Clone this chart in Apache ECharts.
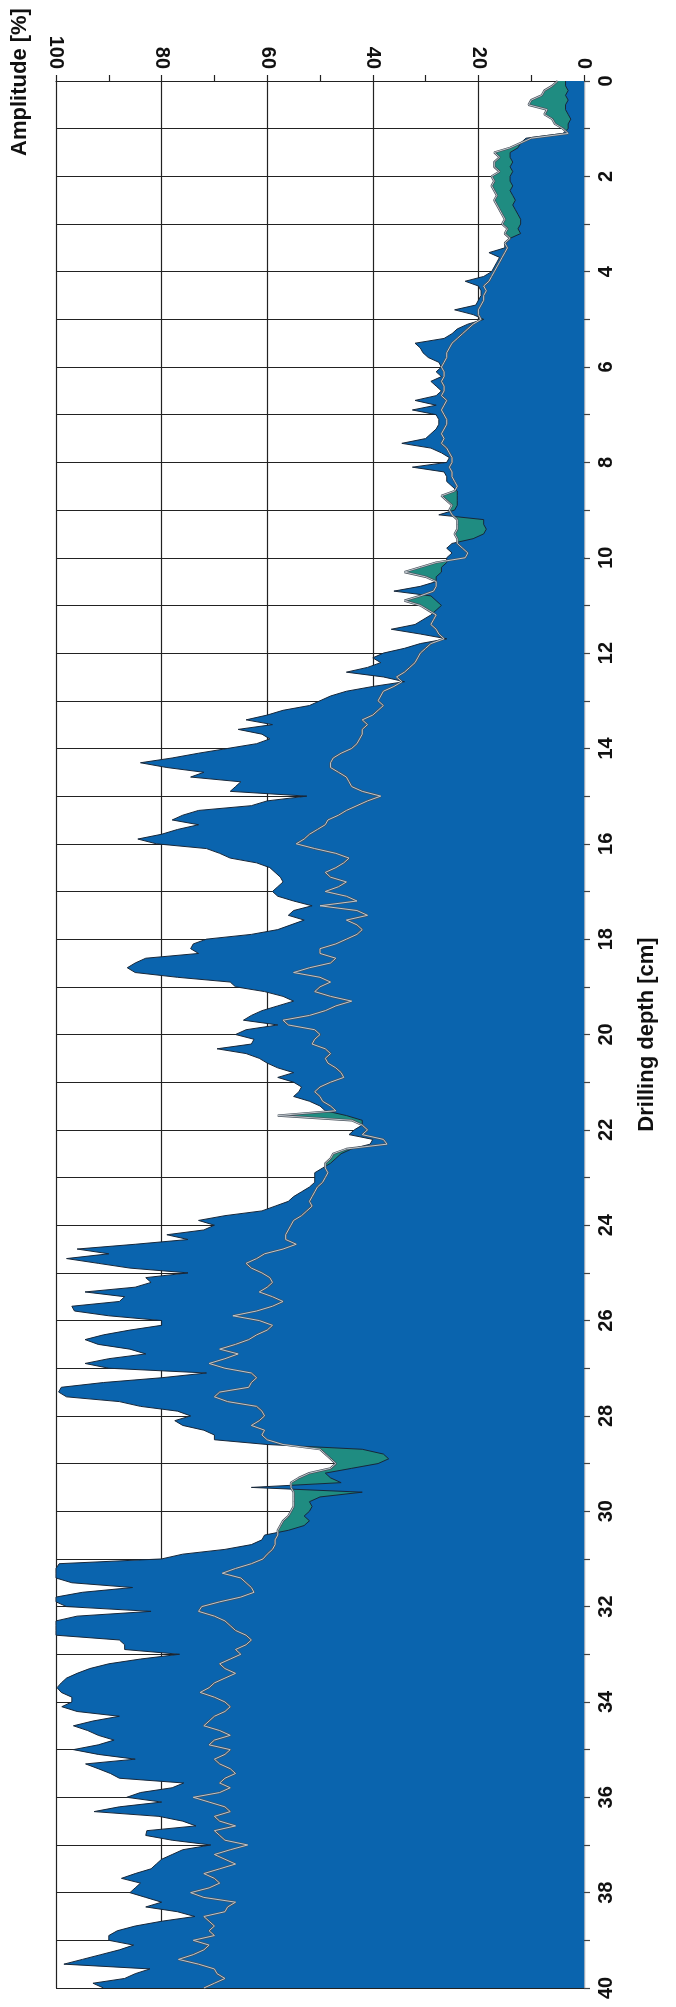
<!DOCTYPE html>
<html><head><meta charset="utf-8">
<script src="https://cdn.jsdelivr.net/npm/echarts@6/dist/echarts.min.js"></script>
<style>html,body{margin:0;padding:0;background:#fff}#c{width:676px;height:2007px}</style>
</head><body><div id="c"></div>
<script>
// Drilling depth categories, 0.0 .. 40.0 cm in 0.1 cm steps
const depthCm = Array.from({length: 401}, (_, i) => (i / 10).toFixed(1));

// Drilling amplitude (blue area), one value per 0.1 cm
const drilling = [
 3.5,3.5,3,3.5,3,3.5,3.5,3,2.5,3,
 3,4,11,12,12.5,14,14,13.5,14,13.5,
 14,14,13.5,14,13.5,13,13.5,13,12.5,12,
 12,12.5,12,14,15,15,18,16,16.5,17,
 17.5,19,22.5,20,19.5,19.5,20,20.5,24.5,21,
 19,22,24,25,26.5,32,31,30.5,29.5,27.5,
 27,28,27,29,28,27,28,32,28,32.5,
 28,27.5,27.5,28,29,30,34.5,29,27,25.5,
 26,32.5,26.5,26,26,25,24,24,24,24,
 24.5,27.5,19,19,18.5,19,21,25,26,25,
 26,26,27,27,28,28,31,36,29,28,
 27,28,29,30.5,32,36.5,31,26,31,34,
 38,40,38.5,41,45,38,34,40,45,48,
 50,52,57,60,64,59,65.5,61,59.5,62,
 67.5,73,78,84,79,72,74.5,65,66,67,
 52.5,60,63,73,76,78,73,77,80,84.5,
 81,71.5,69,67,62,59.5,58.5,57.5,57,58,
 59,58,55,51.5,55,56,53,55.5,58,63,
 71.5,74,74.5,73,83,85,86.5,85,77,67,
 66,60.5,57,55,58,61,63,64.5,58,64,
 66,62.5,63,69.5,64,61.5,60,58,55,58,
 55,53.5,54,55,52,50,49,45,42,42,
 43.5,44.5,40,40.5,44,46,47,48,49.5,51,
 51,51,52,53.5,55,56,58.5,61,68,73,
 70,72,79,75,85,96,90,98,92,86,
 75,83,82,85,94.5,87,88,97,96.5,90,
 80,80,86,91,94.5,92,86,83,90,94.5,
 90,71.5,80,91,99,99.5,98,88,84,77,
 74.5,77.5,76,72,70,70,60,42,38,37,
 39,44,49,48,46,63,42,50,52,51.5,
 52,53,52,53,56,60.5,61,63,68,76,
 80,99.4,100,100,100,97,85.5,95,100,100,
 98,82,96,100,100,100,100,88,87,87,
 76.6,84,90,93.6,96,98,99,99.8,99,97,
 97,98.9,96,88,93,96.7,94,92,89,92,
 96.7,92,85,94.4,92,89.7,88,75.8,78,84,
 86.6,80,88,92.8,80.5,76,73.5,82.8,83,78,
 70.7,76,78,80,81,82,85,87.6,84,85,
 86,83,80,83,77,73.7,80,85,88.4,90,
 90,85.3,88,91.5,95,98.5,82.2,85,87,93,
 91
];

// Feed amplitude (teal area + grey line), one value per 0.1 cm
const feed = [
 5,6,7.5,8,10,10.5,7,7.5,6,5.5,
 4,3,10,12,14,17,16,17,17,16,
 17.5,17,17.5,17,16.5,17,16.5,16,15.5,15,
 15.5,14.5,15,14,15,14.5,15,15.5,16,16.5,
 17,17.5,18,19,18.5,19,19,19.5,20,20,
 19.5,21,22,23,24,25,25.5,26,26,26.5,
 27,26.5,26.5,27,26.5,26.5,27,26,26.5,27,
 26.5,26,26,26.5,27,26.5,27,26,25.5,25,
 25,25.5,25,25,24.5,24,24.5,27,26,25,
 25.5,25,24,24,24,24.5,24,24,23,22,
 22.5,28,31,34,30,28,28,28.5,31,34,
 31,29.5,28,28.5,29,28,27.5,26.5,29,30,
 31,31.5,32,33,34,35.5,34.5,36,38,38.5,
 39,38,39,40,42,41,42,42,42.5,43,
 44,46,47.5,48,48,46.5,45,44.5,44,42,
 38.5,41,43,45,46.5,48.5,49,50.5,52,53,
 54.5,51,47,44.5,45.5,47,49,48,45,46.5,
 49,45,43,50,43,41,45,43,42,43,
 45,47,50,50,47,48,52,55,50,48,
 50,51,48,44,47,49,52,57,56,51,
 50,51,51.5,49,48,49,48.5,47,46,45.5,
 48,50,51,50,49.5,48,47,58,44,42,
 41,42,38,37.3,45,47.5,48,49,49,48.5,
 49,49.5,50.5,51,51.5,52,51.5,52.5,53.5,55,
 55.5,56,56.5,56.5,54.5,57,60.5,62,64,63,
 61,59.5,59,60,61.5,59,57,59,62,66.5,
 61.5,59,60,62,63.5,66,69,65.5,68,71,
 68,63,62,63,63.5,69,70,67.5,62,61,
 60.5,61.5,63,60.5,61,60,57,50,49,48,
 47,48,52,54,55.5,55.5,55,55,55,55,
 55.5,56,57,57.5,58,58,58.5,58.5,59,60,
 60.8,63,66,68.5,65,64,63,62.5,65,69,
 72.4,73,70,68,67,66,64,63,64,66,
 65,67,69,68,66,68,70,71,72.7,70,
 68,67,68,70,71,72,69,67,70,71,
 67,68,70,69,67,66,68,69,67,69,
 74,71,68,67,70,69,66,70,69,68,
 63.7,67,70,68,66,69,72,70,69,71,
 74.5,72,66,67.5,68,72,71,70,71,70,
 74,71,72,74,76.8,73,70,69.5,68,70,
 72
];

const depthTickLabels = [0,2,4,6,8,10,12,14,16,18,20,22,24,26,28,30,32,34,36,38,40];
const ampTickLabels = [0,20,40,60,80,100];

const FONT = 'Liberation Sans, Arial, sans-serif';
const chart = echarts.init(document.getElementById('c'), null, {renderer: 'canvas'});
const isWholeCm = (idx) => idx % 10 === 0;

chart.setOption({
  animation: false,
  backgroundColor: '#ffffff',
  grid: {left: 56, right: 92, top: 81, bottom: 19, containLabel: false},
  graphic: [{
    type: 'text', x: 20, y: 82, rotation: Math.PI / 2,
    style: {text: 'Amplitude [%]', font: 'bold 22px ' + FONT, fill: '#111',
            textAlign: 'center', textVerticalAlign: 'middle'}
  }],
  xAxis: {
    type: 'value', position: 'top', inverse: true, min: 0, max: 100, interval: 20,
    axisLine: {show: true, onZero: false, lineStyle: {color: '#222', width: 1.2}},
    axisTick: {show: true, length: 6, lineStyle: {color: '#222', width: 1.2}},
    minorTick: {show: true, splitNumber: 2, length: 6, lineStyle: {color: '#222', width: 1.2}},
    axisLabel: {rotate: 90, margin: 12, color: '#111', fontSize: 20, fontWeight: 'bold', fontFamily: FONT,
      formatter: (v) => ampTickLabels.includes(v) ? String(v) : ''},
    splitLine: {show: true, lineStyle: {color: '#222', width: 1.2}}
  },
  yAxis: {
    type: 'category', data: depthCm, inverse: true, boundaryGap: false, position: 'right',
    name: 'Drilling depth [cm]', nameLocation: 'middle', nameRotate: 90, nameGap: 52,
    nameTextStyle: {color: '#111', fontSize: 22, fontWeight: 'bold', fontFamily: FONT},
    axisLine: {show: true, lineStyle: {color: '#9ab', width: 1}},
    axisTick: {show: true, length: 6, interval: (idx) => isWholeCm(idx), lineStyle: {color: '#444', width: 1.2}},
    axisLabel: {rotate: 90, margin: 12, color: '#111', fontSize: 20, fontWeight: 'bold', fontFamily: FONT,
      interval: (idx, val) => depthTickLabels.includes(Number(val)),
      formatter: (val) => String(Number(val))},
    splitLine: {show: true, interval: (idx) => isWholeCm(idx), lineStyle: {color: '#222', width: 1.2}}
  },
  series: [
    {name: 'feed area', type: 'line', data: feed, showSymbol: false, z: 2,
     lineStyle: {width: 0}, areaStyle: {color: '#1f8c81', opacity: 1}},
    {name: 'drilling', type: 'line', data: drilling, showSymbol: false, z: 3,
     lineStyle: {color: '#18283a', width: 1}, areaStyle: {color: '#0a64ae', opacity: 1}},
    {name: 'feed edge', type: 'line', data: feed, showSymbol: false, z: 4,
     lineStyle: {color: '#46505a', width: 2.2}},
    {name: 'feed line', type: 'line', data: feed, showSymbol: false, z: 5,
     lineStyle: {color: '#bfc6cc', width: 1}}
  ]
});
</script>
</body></html>
